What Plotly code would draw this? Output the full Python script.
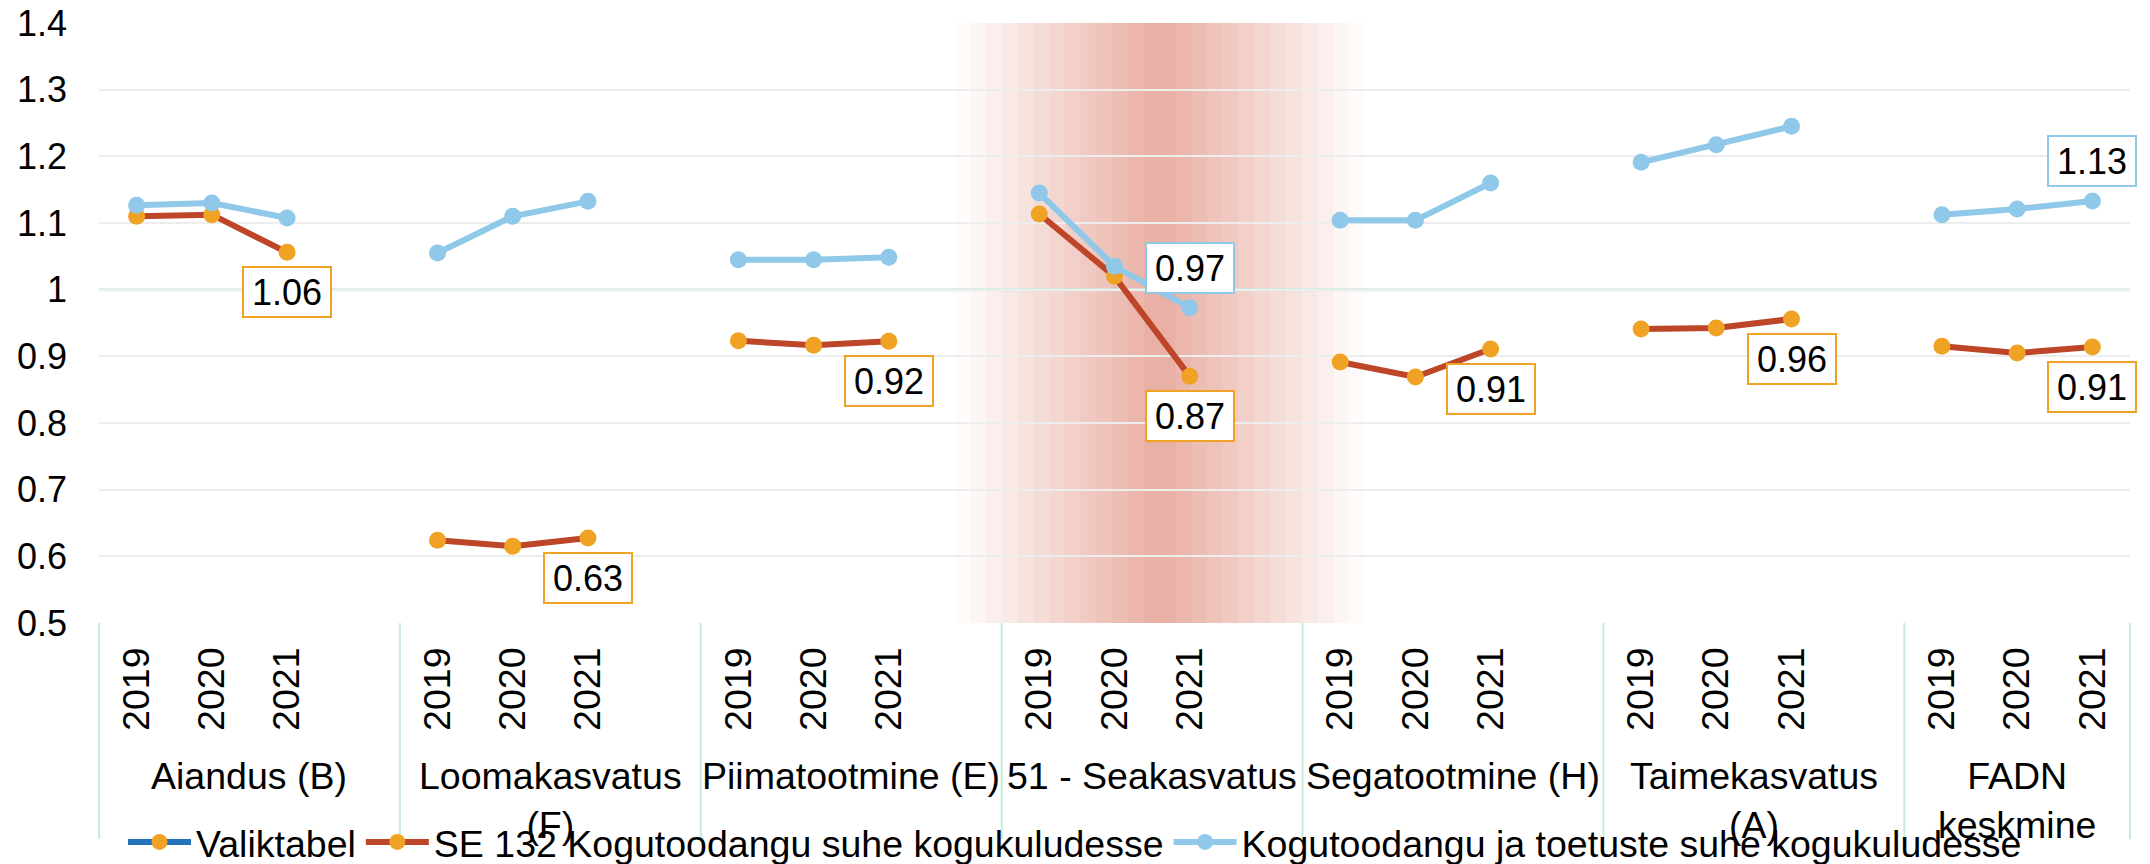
import plotly.graph_objects as go

# ---------------- data ----------------
groups = ["Aiandus (B)", "Loomakasvatus<br>(F)", "Piimatootmine (E)", "51 - Seakasvatus",
          "Segatootmine (H)", "Taimekasvatus<br>(A)", "FADN<br>keskmine"]
years = ["2019", "2020", "2021"]

se132 = [
    [1.110, 1.1125, 1.056],   # Aiandus (B)
    [0.624, 0.615, 0.6275],   # Loomakasvatus (F)
    [0.9235, 0.9165, 0.9225], # Piimatootmine (E)
    [1.1135, 1.020, 0.870],   # 51 - Seakasvatus
    [0.8915, 0.869, 0.911],   # Segatootmine (H)
    [0.941, 0.9425, 0.956],   # Taimekasvatus (A)
    [0.915, 0.905, 0.914],    # FADN keskmine
]
toetus = [
    [1.1265, 1.130, 1.1075],
    [1.055, 1.110, 1.1325],
    [1.045, 1.045, 1.0485],
    [1.145, 1.035, 0.973],
    [1.104, 1.104, 1.160],
    [1.191, 1.2175, 1.245],
    [1.1125, 1.121, 1.133],
]
toetus_labelled_groups = [3, 6]
highlight_group = 3

ytick_vals = [0.5, 0.6, 0.7, 0.8, 0.9, 1.0, 1.1, 1.2, 1.3, 1.4]
ytick_text = ["0.5", "0.6", "0.7", "0.8", "0.9", "1", "1.1", "1.2", "1.3", "1.4"]

names = ["Valiktabel", "SE 132 Kogutoodangu suhe kogukuludesse",
         "Kogutoodangu ja toetuste suhe kogukuludesse"]

# ---------------- styling ----------------
FONT = "Liberation Sans, Arial, sans-serif"
FS = 37.5
FS_TICK = 36
ORANGE = "#F0A224"
RED = "#BD4528"
LBLUE = "#8FC8E8"
BLUE = "#2472B9"
SEP = "#C8ECDC"
GRID = "#EDEDED"

W, H = 2150, 864
ML, MR, MT, MB = 99, 20, 23, 241
SLOTS = 4  # 3 years + one blank slot per group

def pos(g, k):
    return SLOTS * g + k

n_groups = len(groups)
xmax = pos(n_groups - 1, len(years) - 1) + 0.5
xmin = -0.5

def series_xy(vals):
    xs, ys = [], []
    for g, row in enumerate(vals):
        for k, v in enumerate(row):
            xs.append(pos(g, k))
            ys.append(v)
        xs.append(None)
        ys.append(None)
    return xs, ys

fig = go.Figure()

fig.add_trace(go.Scatter(x=[None], y=[None], name=names[0], mode="lines+markers",
                         line=dict(color=BLUE, width=6),
                         marker=dict(color=ORANGE, size=17)))
x1, y1 = series_xy(se132)
fig.add_trace(go.Scatter(x=x1, y=y1, name=names[1], mode="lines+markers",
                         line=dict(color=RED, width=6),
                         marker=dict(color=ORANGE, size=17), connectgaps=False))
x2, y2 = series_xy(toetus)
fig.add_trace(go.Scatter(x=x2, y=y2, name=names[2], mode="lines+markers",
                         line=dict(color=LBLUE, width=6),
                         marker=dict(color=LBLUE, size=17), connectgaps=False))

shapes = []
# gradient highlight band behind the highlighted group
c_center = pos(highlight_group, 0) + 1.6
half = 2.73
n_str = 26
peak = (232, 174, 161)
x0 = c_center - half
step = 2 * half / n_str
for i in range(n_str):
    a = x0 + i * step
    b = a + step
    mid = (a + b) / 2
    t = max(0.0, 1 - abs(mid - c_center) / half)
    col = tuple(round(255 + (p - 255) * t) for p in peak)
    shapes.append(dict(type="rect", xref="x", yref="paper", x0=a, x1=b + 0.01, y0=0, y1=1,
                       fillcolor="rgb(%d,%d,%d)" % col, line=dict(width=0), layer="below"))

# horizontal reference line at 1
shapes.append(dict(type="line", xref="paper", yref="y", x0=0, x1=1, y0=1, y1=1,
                   line=dict(color=SEP, width=3), layer="between"))

# category separators below the plot
plot_w = W - ML - MR
plot_h = H - MT - MB
bounds = [xmin] + [pos(g, 0) - 0.5 for g in range(1, n_groups)] + [xmax]
for b in bounds:
    px = (b - xmin) / (xmax - xmin)
    shapes.append(dict(type="line", xref="paper", yref="paper", x0=px, x1=px,
                       y0=0, y1=-(839 - (H - MB)) / plot_h,
                       line=dict(color=SEP, width=2)))

annotations = []
# group labels
for g, name in enumerate(groups):
    lo = bounds[g]
    hi = bounds[g + 1]
    annotations.append(dict(x=(lo + hi) / 2, xref="x", y=-0.2167, yref="paper",
                            text=name, showarrow=False, xanchor="center", yanchor="top",
                            font=dict(family=FONT, size=FS, color="#000")))

def box_label(x, v, color, above):
    return dict(x=x, y=v, xref="x", yref="y", text="%.2f" % v, showarrow=False,
                xanchor="center", yanchor="bottom" if above else "top",
                yshift=14 if above else -14,
                font=dict(family=FONT, size=FS_TICK, color="#000"),
                bgcolor="white", bordercolor=color, borderwidth=2, borderpad=2,
                width=82, height=44)

for g, row in enumerate(se132):
    annotations.append(box_label(pos(g, 2), row[2], ORANGE, False))
for g in toetus_labelled_groups:
    annotations.append(box_label(pos(g, 2), toetus[g][2], LBLUE, True))

tickvals = [pos(g, k) for g in range(n_groups) for k in range(len(years))]
ticktext = [years[k] for g in range(n_groups) for k in range(len(years))]

fig.update_layout(
    width=W, height=H,
    margin=dict(l=ML, r=MR, t=MT, b=MB, autoexpand=False),
    paper_bgcolor="white", plot_bgcolor="white",
    font=dict(family=FONT, size=FS, color="#000"),
    showlegend=True,
    legend=dict(orientation="h", xref="container", x=123 / W, xanchor="left",
                yref="container", y=1 - 842 / H, yanchor="middle",
                bgcolor="rgba(0,0,0,0)", font=dict(family=FONT, size=FS, color="#000"),
                itemwidth=63, traceorder="normal"),
    xaxis=dict(range=[xmin, xmax], tickmode="array", tickvals=tickvals, ticktext=ticktext,
               tickangle=-90, showgrid=False, zeroline=False, showline=False, ticks="",
               automargin=False, ticklabeloverflow="allow",
               ticklabelstandoff=16, tickfont=dict(family=FONT, size=FS, color="#000")),
    yaxis=dict(range=[0.5, 1.4], tickmode="array", tickvals=ytick_vals, ticktext=ytick_text,
               showgrid=True, gridcolor=GRID, gridwidth=2, zeroline=False, showline=False,
               automargin=False, ticklabeloverflow="allow",
               ticks="", ticklabelstandoff=31, tickfont=dict(family=FONT, size=FS_TICK, color="#000")),
    shapes=shapes,
    annotations=annotations,
)

# remove the default 8px body margin of the page so the figure fills the window
fig.write_html("out.html", config={"displayModeBar": False},
               post_script="document.body.style.margin='0';document.body.style.overflow='hidden';")
